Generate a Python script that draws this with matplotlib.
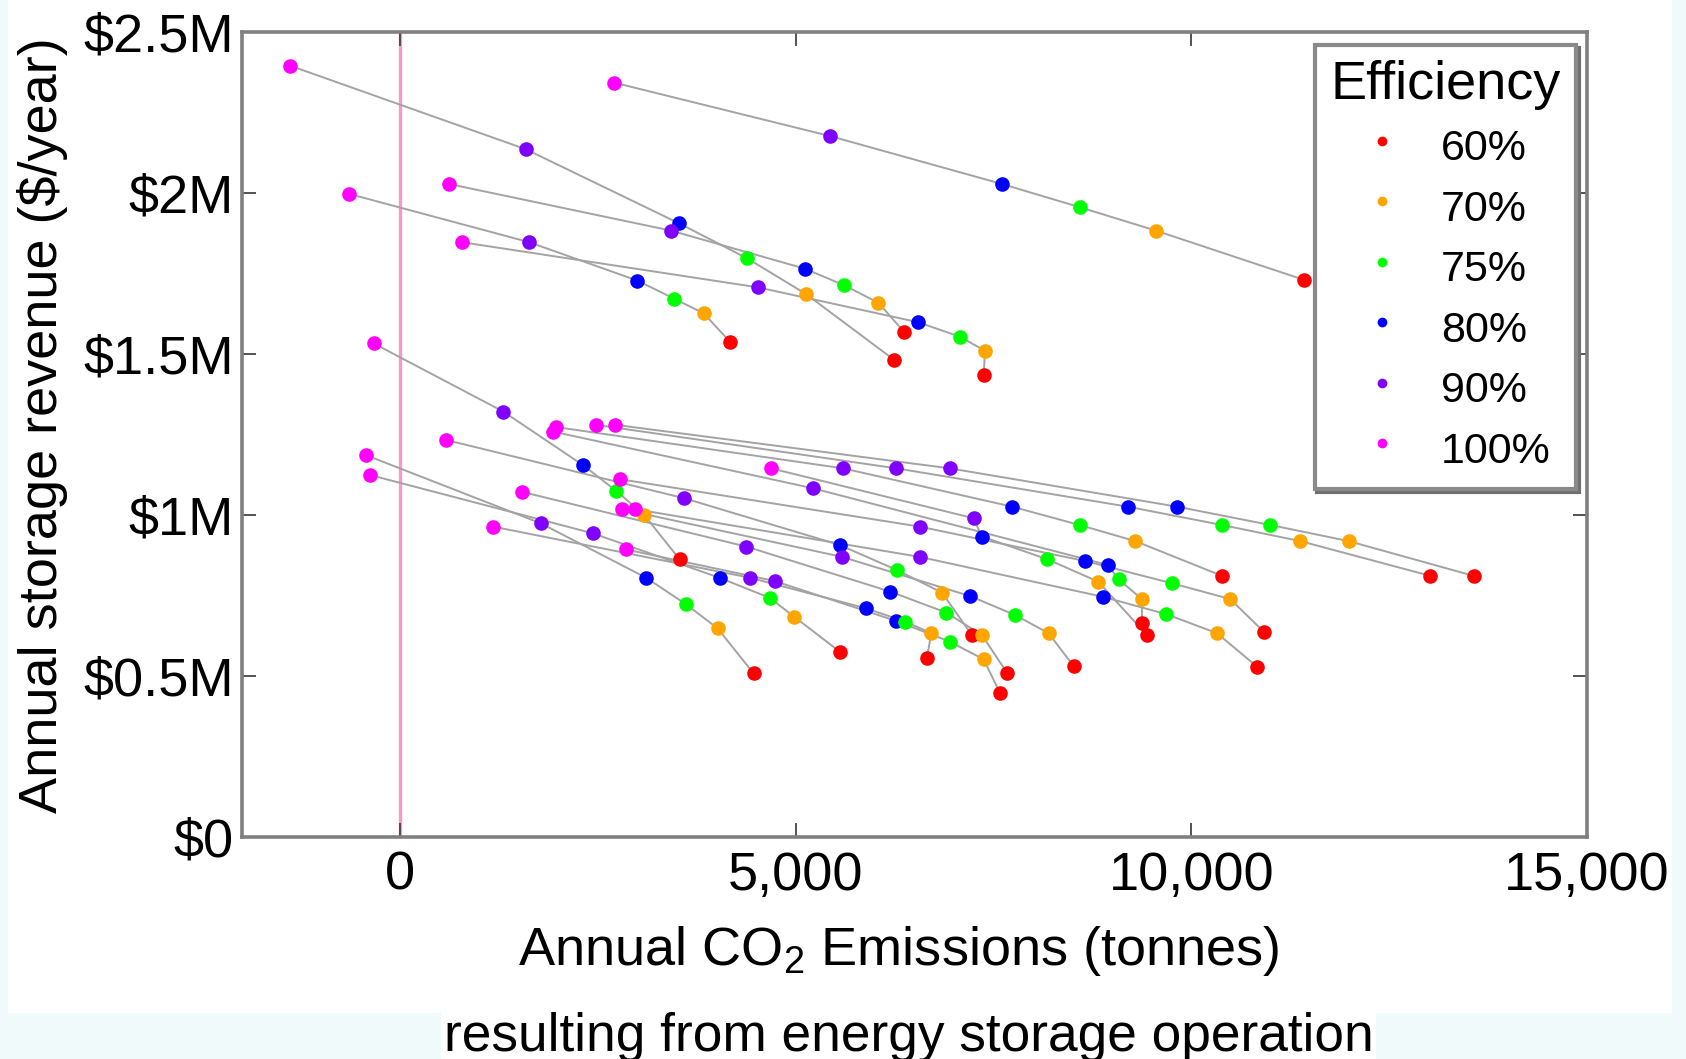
import matplotlib
matplotlib.use('Agg')
import matplotlib.pyplot as plt
from matplotlib.lines import Line2D
from matplotlib.patches import Rectangle
from matplotlib.ticker import FuncFormatter

plt.rcParams['font.family'] = ['Liberation Sans', 'DejaVu Sans']
plt.rcParams['mathtext.fontset'] = 'custom'
plt.rcParams['mathtext.rm'] = 'Liberation Sans'
plt.rcParams['mathtext.it'] = 'Liberation Sans'

efficiency = ['60%', '70%', '75%', '80%', '90%', '100%']
colors = ['#ff0000', '#ffa500', '#00ff00', '#0000ff', '#8000ff', '#ff00ff']

# one value per storage case: annual CO2 (tonnes) and revenue ($M / year)
co2_100 = [2700, -1387, 617, -642, 785, -337, 1972, 2474, 2718, 1934,
           581, -434, -379, 2781, 1538, 2802, 2970, 1172, 2853, 4685]
rev_100 = [2.343, 2.395, 2.028, 1.997, 1.847, 1.533, 1.273, 1.280, 1.280, 1.259,
           1.233, 1.186, 1.124, 1.111, 1.072, 1.018, 1.018, 0.964, 0.893, 1.145]

co2_90 = [5430, 1586, 3426, 1632, 4521, 1304, 5596, 6269, 6943, 5216,
          3590, 1778, 2436, 6564, 4373, 5583, 6564, 4424, 4731, 7246]
rev_90 = [2.177, 2.136, 1.883, 1.847, 1.707, 1.321, 1.145, 1.145, 1.145, 1.083,
          1.052, 0.974, 0.943, 0.964, 0.902, 0.870, 0.870, 0.805, 0.795, 0.990]

co2_80 = [7606, 3522, 5113, 2997, 6541, 2309, 7732, 9193, 9817, 8940,
          5553, 3109, 4036, 8658, 6194, 7205, 8882, 5890, 6269, 7352]
rev_80 = [2.028, 1.906, 1.765, 1.728, 1.599, 1.155, 1.026, 1.026, 1.026, 0.845,
          0.907, 0.805, 0.805, 0.857, 0.762, 0.748, 0.746, 0.710, 0.671, 0.933]

co2_75 = [8588, 4386, 5615, 3461, 7070, 2730, 8586, 10386, 10997, 9079,
          6278, 3611, 4668, 9754, 6901, 7774, 9682, 6383, 6943, 8174]
rev_75 = [1.956, 1.797, 1.713, 1.672, 1.554, 1.075, 0.969, 0.969, 0.969, 0.800,
          0.829, 0.723, 0.743, 0.788, 0.697, 0.689, 0.692, 0.669, 0.607, 0.863]

co2_70 = [9553, 5130, 6044, 3838, 7391, 3084, 9290, 11376, 11986, 9375,
          6847, 4011, 4980, 10491, 7353, 8194, 10323, 6712, 7373, 8822]
rev_70 = [1.883, 1.686, 1.659, 1.626, 1.510, 1.000, 0.919, 0.919, 0.919, 0.739,
          0.759, 0.648, 0.684, 0.739, 0.627, 0.633, 0.633, 0.633, 0.552, 0.793]

co2_60 = [11426, 6247, 6371, 4171, 7375, 3532, 10386, 13019, 13566, 9375,
          7226, 4466, 5553, 10912, 7669, 8510, 10829, 6657, 7584, 9438]
rev_60 = [1.730, 1.481, 1.568, 1.537, 1.434, 0.862, 0.811, 0.811, 0.811, 0.666,
          0.627, 0.508, 0.576, 0.638, 0.510, 0.531, 0.529, 0.555, 0.446, 0.627]

co2 = [co2_60, co2_70, co2_75, co2_80, co2_90, co2_100]
rev = [rev_60, rev_70, rev_75, rev_80, rev_90, rev_100]

W, H = 1686, 1059
fig = plt.figure(figsize=(W / 100, H / 100), dpi=100, facecolor='#f1fafa')
# white card behind the chart, plus a strip behind the second caption line
fig.patches.append(Rectangle((8 / W, 1 - 1013 / H), 1664 / W, 1013 / H,
                             transform=fig.transFigure, fc='white', ec='none',
                             zorder=-10))
fig.patches.append(Rectangle((441 / W, 0), 935 / W, 47 / H,
                             transform=fig.transFigure, fc='white', ec='none',
                             zorder=-10))

ax = fig.add_axes([242 / W, 1 - 837 / H, 1345 / W, 805 / H])

ax.axvline(0, color='#ff96c8', lw=2.4, zorder=1)

# each case is a chain from 100% down to 60% efficiency
order = [5, 4, 3, 2, 1, 0]
for i in range(len(co2_100)):
    xs = [co2[k][i] for k in order]
    ys = [rev[k][i] for k in order]
    ax.plot(xs, ys, color='#a3a3a3', lw=1.4, zorder=2)

for k in [0, 3, 1, 2, 4, 5]:
    ax.plot(co2[k], rev[k], ls='none', marker='o', ms=10.5, mew=0,
            color=colors[k], zorder=3)

ax.set_xlim(-2000, 15000)
ax.set_ylim(0, 2.5)
ax.set_xticks([0, 5000, 10000, 15000])
ax.set_yticks([0, 0.5, 1, 1.5, 2, 2.5])
ax.xaxis.set_major_formatter(FuncFormatter(lambda v, p: f'{v:,.0f}'))
ax.yaxis.set_major_formatter(
    FuncFormatter(lambda v, p: '$0' if v == 0 else f'${v:g}M'))
ax.tick_params(direction='in', length=10, width=1.3, color='#444444',
               labelsize=39, top=True, right=True)
ax.tick_params(axis='x', pad=10)
ax.tick_params(axis='y', pad=6)
for s in ax.spines.values():
    s.set_color('#808080')
    s.set_linewidth(2.6)

handles = [Line2D([], [], ls='none', marker='o', ms=7, mew=0, color=c)
           for c in colors]
leg = ax.legend(handles, efficiency, title='Efficiency', loc='upper right',
                bbox_to_anchor=(0.9918, 0.9839), fontsize=31, title_fontsize=39,
                frameon=True, fancybox=False, edgecolor='#8a8a8a', framealpha=1,
                shadow={'color': '#707070', 'alpha': 1},
                borderpad=0.36, handlelength=1.94, handletextpad=0.4,
                handleheight=1.4, labelspacing=0.25, borderaxespad=0)
leg.get_frame().set_linewidth(3)

fig.text(43 / W, 1 - 425 / H, 'Annual storage revenue ($/year)', rotation=90,
         ha='center', va='center', fontsize=39)
fig.text(899 / W, 1 - 965 / H, 'Annual CO$_2$ Emissions (tonnes)',
         ha='center', va='baseline', fontsize=39)
fig.text(909 / W, 1 - 1051 / H, 'resulting from energy storage operation',
         ha='center', va='baseline', fontsize=38.3)

fig.savefig('out.png', dpi=100, facecolor=fig.get_facecolor())
